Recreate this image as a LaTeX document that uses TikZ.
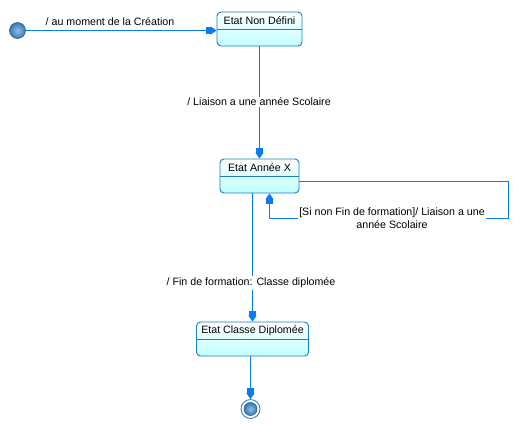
\documentclass[tikz,border=0pt]{standalone}
\usepackage{fontspec}
\setmainfont{Liberation Sans}
\usetikzlibrary{arrows.meta}
\definecolor{edgeblue}{HTML}{0A7CF0}
\definecolor{boxblue}{HTML}{1A7FC1}
\definecolor{cyanfill}{HTML}{C0FFFF}
\definecolor{ballin}{HTML}{8CC0E8}
\definecolor{ballout}{HTML}{3A78B2}
\definecolor{balledge}{HTML}{2A5F8F}
\tikzset{
  statebox/.style={draw=boxblue, line width=0.9bp, rounded corners=4bp,
    top color=white, bottom color=cyanfill, minimum height=34bp, inner sep=0pt},
  title/.style={font=\fontsize{10.7}{12}\selectfont, inner sep=0pt},
  lbl/.style={font=\fontsize{10.7}{13}\selectfont, inner sep=1.5pt, align=center},
  tr/.style={draw=edgeblue, line width=1.2bp,
    -{Rectangle[length=5bp,width=7bp,fill=edgeblue]Triangle[length=6bp,width=8bp,fill=edgeblue]}},
  pseudo/.style={circle, draw=balledge, line width=0.6bp, inner color=ballin, outer color=ballout, inner sep=0pt}
}
\begin{document}
\begin{tikzpicture}[x=1bp,y=-1bp]
\useasboundingbox (0,0) rectangle (516,424);
% states
\node[statebox, minimum width=85bp] (s1) at (259.5,29) {};
\draw[boxblue, line width=0.9bp] (s1.west) -- (s1.east);
\node[title] (t1) at ([yshift=8.5bp]s1.center) {Etat Non Défini};

\node[statebox, minimum width=79bp] (s2) at (259.5,176) {};
\draw[boxblue, line width=0.9bp] (s2.west) -- (s2.east);
\node[title] (t2) at ([yshift=8.5bp]s2.center) {Etat Année X};

\node[statebox, minimum width=112bp] (s3) at (252.5,339) {};
\draw[boxblue, line width=0.9bp] (s3.west) -- (s3.east);
\node[title] (t3) at ([yshift=8.5bp]s3.center) {Etat Classe Diplomée};

% pseudo states
\node[pseudo, minimum size=16bp] (init) at (17.5,30.5) {};
\node[circle, draw=boxblue, line width=0.8bp, minimum size=19bp, inner sep=0pt] (fin) at (250.5,409) {};
\node[pseudo, minimum size=13bp] (finin) at (fin.center) {};

% transitions
\draw[tr] (init.east) -- (init -| s1.west);
\node[lbl] (l1) at (110,22) {/ au moment de la Création};

\draw[tr] (s1.south) -- (s2.north);
\node[lbl, fill=white] (l2) at (259,102) {/ Liaison a une année Scolaire};

\coordinate (lr) at (508.5,218.5);
\draw[tr] ([yshift=-5.5bp]s2.east) -| (lr) -| ([xshift=10bp]s2.south);
\node[lbl, fill=white] (l3) at (392,218.5) {[Si non Fin de formation]/ Liaison a une\\année Scolaire};

\draw[tr] (s3.north |- s2.south) -- (s3.north);
\node[lbl, fill=white] (l4) at (251,283) {/ Fin de formation: Classe diplomée};

\draw[tr] (s3.south -| fin) -- (fin.north);
\end{tikzpicture}
\end{document}
